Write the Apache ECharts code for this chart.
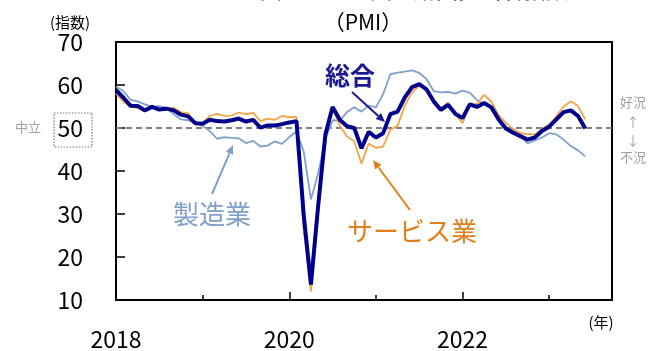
<!DOCTYPE html>
<html>
<head>
<meta charset="utf-8">
<script src="https://cdn.jsdelivr.net/npm/echarts@6/dist/echarts.min.js"></script>
<style>
  html, body { margin: 0; padding: 0; background: #fff; }
  #pmi_chart { width: 662px; height: 351px; }
</style>
</head>
<body>
<div id="pmi_chart"></div>
<script>
// monthly PMI, Jan 2018 - Jun 2023
var months = [];
for (var y = 2018; y <= 2023; y++) {
  for (var m = 1; m <= 12; m++) {
    if (y === 2023 && m > 6) break;
    months.push(y + "-" + (m < 10 ? "0" + m : m));
  }
}

var composite = [
  58.8, 57.1, 55.2, 55.1, 54.1, 54.9, 54.3, 54.5, 54.1, 53.1, 52.7, 51.1,
  51.0, 51.9, 51.6, 51.5, 51.8, 52.2, 51.5, 51.9, 50.1, 50.6, 50.6, 50.9,
  51.3, 51.6, 29.7, 13.6, 31.9, 48.5, 54.9, 51.9, 50.4, 50.0, 45.3, 49.1,
  47.8, 48.8, 53.2, 53.8, 57.1, 59.5, 60.2, 59.0, 56.2, 54.2, 55.4, 53.3,
  52.3, 55.5, 54.9, 55.8, 54.8, 52.0, 49.9, 48.9, 48.1, 47.3, 47.8, 49.3,
  50.3, 52.0, 53.7, 54.1, 52.8, 49.9
];
var manufacturing = [
  59.6, 58.6, 56.6, 56.2, 55.5, 54.9, 55.1, 54.6, 53.2, 52.0, 51.8, 51.4,
  50.5, 49.3, 47.5, 47.9, 47.7, 47.6, 46.5, 47.0, 45.7, 45.9, 46.9, 46.3,
  47.9, 49.2, 44.5, 33.4, 39.4, 47.4, 51.8, 51.7, 53.7, 54.8, 53.8, 55.2,
  54.8, 57.9, 62.5, 62.9, 63.1, 63.4, 62.8, 61.4, 58.6, 58.3, 58.4, 58.0,
  58.7, 58.2, 56.5, 55.5, 54.6, 52.1, 49.8, 49.6, 48.4, 46.4, 47.1, 47.8,
  48.8, 48.5, 47.3, 45.8, 44.8, 43.4
];
var services = [
  58.0, 56.2, 54.9, 54.7, 53.8, 55.2, 54.2, 54.4, 54.7, 53.7, 53.4, 51.2,
  51.2, 52.8, 53.3, 52.8, 52.9, 53.6, 53.2, 53.5, 51.6, 52.2, 51.9, 52.8,
  52.5, 52.6, 26.4, 12.0, 30.5, 48.3, 54.7, 50.5, 48.0, 46.9, 41.7, 46.4,
  45.4, 45.7, 49.6, 50.5, 55.2, 58.3, 59.8, 59.0, 56.4, 54.6, 55.9, 53.1,
  51.1, 55.5, 55.6, 57.7, 56.1, 53.0, 51.2, 49.8, 48.8, 48.6, 48.5, 49.8,
  50.8, 52.7, 55.0, 56.2, 55.1, 52.0
];

var yTicks = [10, 20, 30, 40, 50, 60, 70];
var neutralLine = 50;

function toPoints(arr) {
  return arr.map(function (v, i) { return [i, v]; });
}

var font = "'Noto Sans CJK JP', 'Noto Sans', sans-serif";
var navy = "#00008c";
var lightBlue = "#7fa0cc";
var orange = "#f5a445";

var chart = echarts.init(document.getElementById("pmi_chart"));

// arrow: line + small triangle head at (x2, y2)
function arrow(x1, y1, x2, y2, color) {
  var a = Math.atan2(y2 - y1, x2 - x1);
  var L = 9, W = 4;
  var bx = x2 - L * Math.cos(a), by = y2 - L * Math.sin(a);
  var px = -Math.sin(a) * W, py = Math.cos(a) * W;
  return [
    { type: "line", shape: { x1: x1, y1: y1, x2: bx, y2: by }, style: { stroke: color, lineWidth: 2 }, z: 10 },
    { type: "polygon", shape: { points: [[x2, y2], [bx + px, by + py], [bx - px, by - py]] }, style: { fill: color }, z: 10 }
  ];
}

var graphics = [
  // cut-off title line
  { type: "text", left: 260, top: -21, style: { text: "図　ユーロ圏の購買担当者指数", font: "22px " + font, fill: "#000" } },
  { type: "text", x: 363, y: 22, style: { text: "（PMI）", font: "21px " + font, fill: "#000", align: "center", verticalAlign: "middle" } },
  { type: "text", x: 70, y: 22, style: { text: "(指数)", font: "15px " + font, fill: "#000", align: "center", verticalAlign: "middle" } },
  { type: "text", x: 28, y: 127, style: { text: "中立", font: "13px " + font, fill: "#a0a0a0", align: "center", verticalAlign: "middle" } },
  { type: "rect", shape: { x: 54, y: 113, width: 38, height: 34 }, style: { fill: "none", stroke: "#777", lineWidth: 1.2, lineDash: [1.5, 1.5] } },
  { type: "text", x: 633, y: 102, style: { text: "好況", font: "13px " + font, fill: "#a0a0a0", align: "center", verticalAlign: "middle" } },
  { type: "text", x: 633, y: 122, style: { text: "↑", font: "13px " + font, fill: "#a0a0a0", align: "center", verticalAlign: "middle" } },
  { type: "text", x: 633, y: 140, style: { text: "↓", font: "13px " + font, fill: "#a0a0a0", align: "center", verticalAlign: "middle" } },
  { type: "text", x: 633, y: 157, style: { text: "不況", font: "13px " + font, fill: "#a0a0a0", align: "center", verticalAlign: "middle" } },
  { type: "text", x: 601, y: 322, style: { text: "(年)", font: "15px " + font, fill: "#000", align: "center", verticalAlign: "middle" } },
  // series call-outs
  { type: "text", x: 350, y: 75, z: 10, style: { text: "総合", font: "bold 25px " + font, fill: "#1a1a8e", align: "center", verticalAlign: "middle" } },
  { type: "text", x: 212, y: 214, z: 10, style: { text: "製造業", font: "26px " + font, fill: "#7f9fc9", align: "center", verticalAlign: "middle" } },
  { type: "text", x: 412, y: 231, z: 10, style: { text: "サービス業", font: "26px " + font, fill: "#e0801a", align: "center", verticalAlign: "middle" } }
]
  .concat(arrow(352, 92, 385, 122, "#1a1a8e"))
  .concat(arrow(212, 194, 233, 145, "#7f9fc9"))
  .concat(arrow(410, 210, 373, 160, "#e0801a"));

var options = {
  animation: false,
  grid: {
    left: 116, right: 50, top: 42, bottom: 46,
    show: true, borderColor: "#000", borderWidth: 2
  },
  xAxis: {
    type: "value",
    min: 0,
    max: 68.7,
    interval: 24,
    axisLine: { lineStyle: { color: "#000", width: 2 } },
    axisTick: { inside: true, length: 8, lineStyle: { color: "#000", width: 1.5 } },
    minorTick: { show: true, splitNumber: 2, length: 5, lineStyle: { color: "#000", width: 1.5 } },
    splitLine: { show: false },
    axisLabel: {
      showMaxLabel: false,
      margin: 28,
      fontSize: 23,
      color: "#000",
      fontFamily: font,
      formatter: function (v) { return v % 24 === 0 ? String(2018 + v / 12) : ""; }
    }
  },
  yAxis: {
    type: "value",
    min: yTicks[0],
    max: yTicks[yTicks.length - 1],
    interval: 10,
    axisLine: { show: true, lineStyle: { color: "#000", width: 2 } },
    axisTick: { show: true, inside: true, length: 9, lineStyle: { color: "#000", width: 1.5 } },
    splitLine: { show: false },
    axisLabel: { margin: 33, fontSize: 23, color: "#000", fontFamily: font }
  },
  series: [
    {
      type: "line", name: "製造業", data: toPoints(manufacturing),
      symbol: "none", lineStyle: { color: lightBlue, width: 1.8 }, z: 2
    },
    {
      type: "line", name: "サービス業", data: toPoints(services),
      symbol: "none", lineStyle: { color: orange, width: 1.8 }, z: 3
    },
    {
      type: "line", name: "総合", data: toPoints(composite),
      symbol: "none", lineStyle: { color: navy, width: 4 }, z: 4,
      markLine: {
        silent: true, symbol: "none", label: { show: false },
        lineStyle: { color: "#808080", type: [6, 4], width: 2 },
        data: [{ yAxis: neutralLine }],
        z: 1
      }
    }
  ],
  graphic: graphics
};

chart.setOption(options);
</script>
</body>
</html>
